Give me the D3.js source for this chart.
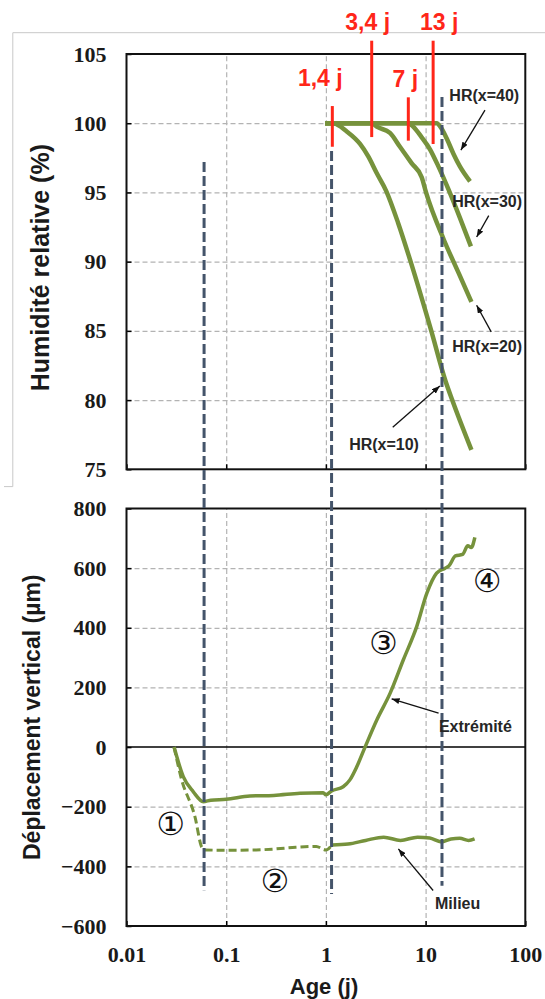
<!DOCTYPE html>
<html>
<head>
<meta charset="utf-8">
<script src="https://cdn.jsdelivr.net/npm/d3@7"></script>
<style>
body { margin: 0; background: #fff; }
svg { display: block; }
.note { font-family: "Liberation Sans", Arial, sans-serif; font-weight: bold; font-size: 16px; fill: #262626; }
.red { font-family: "Liberation Sans", Arial, sans-serif; font-weight: bold; font-size: 23px; fill: #ff2619; }
.title { font-family: "Liberation Sans", Arial, sans-serif; font-weight: bold; fill: #1a1a1a; }
.circ { font-family: "DejaVu Sans", "Noto Sans CJK JP", sans-serif; font-size: 32px; fill: #111; }
</style>
</head>
<body>
<svg id="chart" width="545" height="999"></svg>
<script>
// ---- data (age in days, HR in %, displacement in µm) ----
const xTicks = [0.01, 0.1, 1, 10, 100];
const xTickLabels = ["0.01", "0.1", "1", "10", "100"];
const hrTicks = [75, 80, 85, 90, 95, 100, 105];
const depTicks = [-600, -400, -200, 0, 200, 400, 600, 800];

const hr10 = [[0.98,100],[1.18,100],[1.62,99.4],[2.2,98.5],[2.66,97.6],[3.23,96.4],[4.03,95.1],[5.3,92.8],[7.08,90.0],[11.4,85.0],[15.8,81.4],[18.5,80.0],[28.8,76.4]];
const hr20 = [[0.98,100],[2.88,100],[3.23,99.75],[4.39,99.3],[5.53,98.3],[7.26,97.1],[9.14,96.1],[10.1,95.0],[15.2,91.6],[21.7,89.1],[28.8,87.1]];
const hr30 = [[0.98,100],[6.7,100],[7.5,99.75],[9.1,99.0],[11.1,98.1],[13.4,96.9],[17,95.2],[22,93.2],[28.5,91.1]];
const hr40 = [[0.98,100],[12.9,100],[14.5,99.6],[16.5,98.8],[19,97.8],[22,96.9],[27.9,95.8]];

const extremite = [[0.030,0],[0.0371,-99],[0.0468,-150],[0.0589,-183],[0.07,-178],[0.1,-175],[0.173,-164],[0.3,-162],[0.55,-155],[0.94,-153],[1.0,-160],[1.14,-147],[1.49,-133],[1.74,-110],[2.04,-66],[2.47,0],[3.24,91],[4.40,180],[5.97,292],[8.14,404],[10.3,516],[12.9,583],[15.7,600],[17.1,607],[19.9,641],[23.5,646],[26.5,675],[28.7,669],[31.2,703]];
const milieuEarly = [[0.030,0],[0.0353,-103],[0.0487,-235],[0.057,-336],[0.062,-345],[0.1,-346],[0.2,-345],[0.3,-342],[0.5,-336],[0.8,-333],[1.0,-345],[1.15,-328]];
const milieuLate = [[1.15,-328],[1.67,-325],[2.5,-313],[3.8,-302],[5.6,-313],[8.3,-302],[11,-305],[14.4,-318],[18,-308],[22,-306],[27,-313],[31,-308]];

// vertical dashed phase lines: age, top (HR), bottom (µm)
const phaseAges = [0.06, 1.14, 14.6];
const phaseTopHR = [97.2, 98.0, 101.9];
const phaseBottomDep = [-480, -493, -465];

// red marks on the HR plot
const redLabels = ["1,4 j", "3,4 j", "7 j", "13 j"];
const redAges = [1.16, 2.88, 6.71, 11.9];
const redTopHR = [101.24, 105.96, 101.87, 105.96];
const redBottomHR = [98.3, 99.0, 98.74, 98.5];

// HR annotations: text anchor (age, HR), arrow from -> to
const hrNames = ["HR(x=40)", "HR(x=30)", "HR(x=20)", "HR(x=10)"];
const hrTextAt = [[17.3,101.6],[18.5,93.92],[18.5,83.48],[1.71,76.43]];
const hrArrowFrom = [[39.4,100.95],[43.0,93.32],[45.5,84.93],[4.68,78.03]];
const hrArrowTo = [[22.6,98.06],[32.5,91.78],[32.5,86.85],[13.9,81.01]];

// displacement annotations
const depNames = ["Extrémité", "Milieu"];
const depTextAt = [[13.6,49],[12.4,-543]];
const depArrowFrom = [[13.5,114],[11.9,-481]];
const depArrowTo = [[4.56,162],[5.33,-341.5]];
const phaseSymbols = ["①", "②", "③", "④"];
const phaseSymbolAt = [[0.0277,-257],[0.308,-448],[3.77,348],[41.3,556]];

// ---- layout ----
const svg = d3.select("#chart");
const left = 126.5, right = 525.3;
const x = d3.scaleLog().domain([0.01, 100]).range([left, right]);
const yHR = d3.scaleLinear().domain([75, 105]).range([469.3, 54]);
const yDep = d3.scaleLinear().domain([-600, 800]).range([926, 508.5]);
const green = "#76923c";

svg.append("rect").attr("width", 545).attr("height", 999).attr("fill", "#fff");

// thin border of the pasted upper picture
svg.append("path")
    .attr("d", "M545,32.7 H12.8 V486.6 H4")
    .attr("fill", "none")
    .attr("stroke", "#c8c8c8")
    .attr("stroke-width", 1);

const defs = svg.append("defs");
defs.append("marker")
    .attr("id", "arrow")
    .attr("viewBox", "0 0 8 6")
    .attr("refX", 8).attr("refY", 3)
    .attr("markerWidth", 8).attr("markerHeight", 6)
    .attr("markerUnits", "userSpaceOnUse")
    .attr("orient", "auto")
    .append("path")
    .attr("d", "M0,0 L8,3 L0,6 Z")
    .attr("fill", "#111");

function styleTicks(s) {
    s.select(".domain").remove();
    s.selectAll(".tick line").attr("stroke", "#000").attr("stroke-width", 1.5);
    s.selectAll(".tick text")
        .style("font-family", "'Liberation Serif', 'DejaVu Serif', serif")
        .style("font-weight", "bold")
        .style("font-size", "22px")
        .style("fill", "#1a1a1a");
}

function styleGrid(s) {
    s.select(".domain").remove();
    s.selectAll(".tick line")
        .attr("stroke", "#b3b3b3")
        .attr("stroke-width", 1.2)
        .attr("stroke-dasharray", "5,3");
}

function panel(y, ticks, gridTicks, showX) {
    const top = y.range()[1], bottom = y.range()[0];
    const g = svg.append("g");

    g.append("g")
        .attr("transform", `translate(0,${bottom})`)
        .call(d3.axisBottom(x).tickValues([0.1, 1, 10]).tickSize(-(bottom - top)).tickFormat(""))
        .call(styleGrid);
    g.append("g")
        .attr("transform", `translate(${left},0)`)
        .call(d3.axisLeft(y).tickValues(gridTicks).tickSize(-(right - left)).tickFormat(""))
        .call(styleGrid);

    // axes with inward ticks
    g.append("g")
        .attr("transform", `translate(${left},0)`)
        .call(d3.axisLeft(y).tickValues(ticks).tickSizeInner(-5).tickSizeOuter(0).tickPadding(20))
        .call(styleTicks);
    const xa = g.append("g")
        .attr("transform", `translate(0,${bottom})`)
        .call(d3.axisBottom(x).tickValues(xTicks).tickSizeInner(-5).tickSizeOuter(0).tickPadding(20.4)
            .tickFormat((d, i) => showX ? xTickLabels[i] : ""))
        .call(styleTicks);
    if (!showX) xa.selectAll("text").remove();
    return g;
}

panel(yHR, hrTicks, [80, 85, 90, 95, 100], false);
panel(yDep, depTicks, [-400, -200, 200, 400, 600], true);

// zero line
svg.append("line")
    .attr("x1", left).attr("x2", right)
    .attr("y1", yDep(0)).attr("y2", yDep(0))
    .attr("stroke", "#000").attr("stroke-width", 1.5);

// HR curves
const lineHR = d3.line().x(d => x(d[0])).y(d => yHR(d[1])).curve(d3.curveMonotoneX);
[hr40, hr30, hr20, hr10].forEach(s => {
    svg.append("path").datum(s)
        .attr("fill", "none").attr("stroke", green)
        .attr("stroke-width", 4.5).attr("stroke-linejoin", "round")
        .attr("d", lineHR);
});

// displacement curves
const lineDep = d3.line().x(d => x(d[0])).y(d => yDep(d[1])).curve(d3.curveMonotoneX);
svg.append("path").datum(extremite)
    .attr("fill", "none").attr("stroke", green).attr("stroke-width", 3.5)
    .attr("d", lineDep);
svg.append("path").datum(milieuEarly)
    .attr("fill", "none").attr("stroke", green).attr("stroke-width", 3)
    .attr("stroke-dasharray", "8,4")
    .attr("d", lineDep);
svg.append("path").datum(milieuLate)
    .attr("fill", "none").attr("stroke", green).attr("stroke-width", 3.5)
    .attr("d", lineDep);

// frames
[yHR, yDep].forEach(y => {
    svg.append("rect")
        .attr("x", left).attr("y", y.range()[1])
        .attr("width", right - left).attr("height", y.range()[0] - y.range()[1])
        .attr("fill", "none").attr("stroke", "#111").attr("stroke-width", 2);
});

// dashed phase lines crossing both plots
phaseAges.forEach((a, i) => {
    svg.append("line")
        .attr("x1", x(a)).attr("x2", x(a))
        .attr("y1", yHR(phaseTopHR[i])).attr("y2", yDep(phaseBottomDep[i]))
        .attr("stroke", "#44546a").attr("stroke-width", 3)
        .attr("stroke-dasharray", "10,4");
});

// red marks
const redShift = [[-12, -20], [-4, -11], [-3, -10], [6, -11]];
redAges.forEach((a, i) => {
    svg.append("line")
        .attr("x1", x(a)).attr("x2", x(a))
        .attr("y1", yHR(redTopHR[i])).attr("y2", yHR(redBottomHR[i]))
        .attr("stroke", "#ff2619").attr("stroke-width", 3);
    svg.append("text")
        .attr("class", "red")
        .attr("x", x(a) + redShift[i][0])
        .attr("y", yHR(redTopHR[i]) + redShift[i][1])
        .attr("text-anchor", "middle")
        .text(redLabels[i]);
});

// annotations
function note(name, at, from, to, y) {
    svg.append("line")
        .attr("x1", x(from[0])).attr("y1", y(from[1]))
        .attr("x2", x(to[0])).attr("y2", y(to[1]))
        .attr("stroke", "#111").attr("stroke-width", 1.3)
        .attr("marker-end", "url(#arrow)");
    svg.append("text").attr("class", "note")
        .attr("x", x(at[0])).attr("y", y(at[1]))
        .text(name);
}
hrNames.forEach((n, i) => note(n, hrTextAt[i], hrArrowFrom[i], hrArrowTo[i], yHR));
depNames.forEach((n, i) => note(n, depTextAt[i], depArrowFrom[i], depArrowTo[i], yDep));

phaseSymbols.forEach((s, i) => {
    svg.append("text").attr("class", "circ")
        .attr("x", x(phaseSymbolAt[i][0])).attr("y", yDep(phaseSymbolAt[i][1]))
        .attr("text-anchor", "middle").attr("dominant-baseline", "central")
        .text(s);
});

// axis titles
svg.append("text").attr("class", "title")
    .attr("x", 324).attr("y", 994)
    .attr("text-anchor", "middle").attr("font-size", 22)
    .text("Age (j)");
svg.append("text").attr("class", "title")
    .attr("transform", `translate(49,${(yHR.range()[0] + yHR.range()[1]) / 2 + 6}) rotate(-90)`)
    .attr("text-anchor", "middle").attr("font-size", 25)
    .text("Humidité relative (%)");
svg.append("text").attr("class", "title")
    .attr("transform", `translate(40,${(yDep.range()[0] + yDep.range()[1]) / 2}) rotate(-90)`)
    .attr("text-anchor", "middle").attr("font-size", 23)
    .text("Déplacement vertical (µm)");
</script>
</body>
</html>
